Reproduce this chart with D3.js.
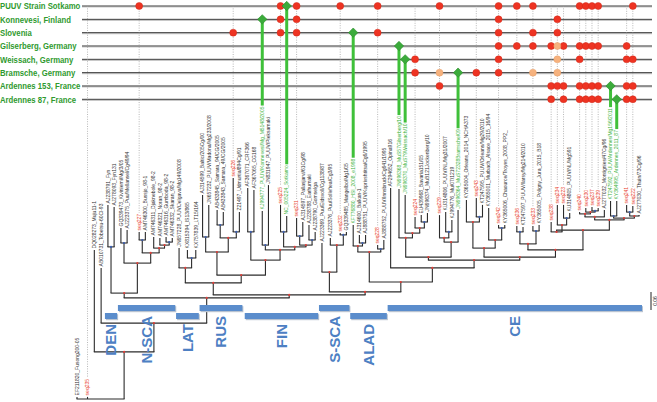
<!DOCTYPE html>
<html><head><meta charset="utf-8">
<script src="https://cdn.jsdelivr.net/npm/d3@7"></script>
<style>body{margin:0;background:#fff}svg{display:block}</style>
</head><body><svg id="c" width="657" height="402"></svg>
<script>
// ---------- DATA ----------
const rowLabels = ["PUUV Strain Sotkamo","Konnevesi, Finland","Slovenia","Gilserberg, Germany","Weissach, Germany","Bramsche, Germany","Ardennes 153, France","Ardennes 87, France"];
const rowRefs = ["NC_005224","KJ994777","KF776880","JN696368","JN696370","JN696364","KT247592","KY364995"];
const rowRed = [
 ["seq227","seq225","seq231","seq232","seq228","seq229","seq242","seq236","seq233","seq240","seq230","seq237","seq239","seq222"],
 ["seq225","seq231","seq242","seq234"],
 ["seq226","seq225","seq231","seq228","seq242","seq233","seq234"],
 ["seq242","seq236","seq233","seq238","seq223","seq240","seq230","seq237","seq239","seq241"],
 ["seq224","seq242","seq240","seq241","seq222"],
 ["seq224","seq243","seq242"],
 ["seq229","seq238","seq234","seq223","seq240","seq230","seq237","seq239","seq241","seq222"],
 ["seq238","seq223","seq240","seq230","seq237","seq239","seq241","seq222"]
];
const rowOrange = [[],[],[],["seq234"],["seq234"],["seq229","seq233","seq234"],[],[]];

const cladeNames = ["DEN","N-SCA","LAT","RUS","FIN","S-SCA","ALAD","CE"];
const cladeFirst = ["AJ238791","GQ339473","JN657228","AJ314599","AF367071","AJ223369","KF776880","AF294652"];
const cladeLast  = ["AJ278093","AM746332","KX757839","Z21497","AJ238790","GQ339485","AJ888752","AJ277030"];
const scaleBarValue = 0.06;

// subtrees (Newick-like; number after ':' = distance from root)
const treeDEN = "(AJ238791_Fyn:0.647,AJ278093_Fyn131:0.64):0.507";
const treeNSCA = "((GQ339473_Kiviniemi/Mg/3/05:0.57,AJ223375_Puu/Mellansel/Cg49/94:0.563):0.52,((seq227:0.557,AM746300_Bussjo_98-1:0.557):0.53,(AM746311_Djaknebole_98-2:0.54,(AM746321_Noran_98-2:0.537,(AM746316_Gumboda_98-2:0.54,AM746332_Skaran_98-2:0.537):0.523):0.513):0.503):0.487):0.453";
const treeLAT = "(JN657228_PUUV/Jelgava/Mg149/2008:0.503,(KX815394_IS13/865:0.497,KX757839_LT15/164:0.497):0.47):0.437";
const treeRUS = "((AJ314599_Baltic/205Cg/00:0.68,JN657232_PUUV/Madona/Mg233/2008:0.647):0.54,((AB433845_Samara_94/CG/2005:0.63,AB433843_Samara_49/CG/2005:0.623):0.58,(seq226:0.737,Z21497_Udmurtia/894Cg/91:0.623):0.557):0.537):0.49";
const treeFIN = "((AF367071_CRF366:0.703,AF367065_CG168:0.697):0.557,((KJ994777_PUUV/Konnevesi/Mg_M5148/2005:0.627,JN831947_PUUV/Pieksamaki:0.713):0.513,((seq225:0.647,NC_005224_Sotkamo:0.61):0.557,((seq231:0.603,AJ314597_Pallasjarvi/61Cg/98:0.59):0.543,(AJ238788_Earhumaki:0.58,AJ238790_Gomselga:0.557):0.53):0.513):0.507):0.497):0.463";
const treeSSCA = "(AJ223369_Puu/Eidsvoll/Cg1138/87:0.52,(AJ223376_Puu/Solleftea/Cg3/95:0.537,(seq232:0.553,GQ339485_Mangelbo/Mg1/05:0.557):0.547):0.513):0.423";
const treeALAD = "((KF776880_HSI_2008_e1998:0.58,(AJ314600_Balkan-1:0.547,AJ888751_PUUV/Koprivshtitsa/Cg6/1995:0.547):0.52):0.51,(seq228:0.513,AJ888752_PUUV/Innsbruck/Cg641/1995:0.53):0.5):0.49";
const treeCE = "(AF294652_Opina916:0.703,(((JN696368_MuS57Gilserberg/10:0.70,(JN696370_MuS79Weissach/10:0.68,(seq224:0.607,(EU439968_Bavaria151/05:0.613,JN696374_MuB121Jockenberg/10:0.62):0.59):0.57):0.553):0.537,((seq229:0.613,(KU314806_PUUV/NL/Mg31/2007:0.623,KJ994776_Mu/07/1219:0.597):0.557):0.537,JN696364_MuS72328Bramsche/09:0.63):0.523):0.473,(((KY365004_Orleans_2014_NCHA373:0.663,(seq243:0.67,KT247595_PUUV/Orleans/Mg29/2010:0.647):0.607):0.59,(KY365001_Murbach_Alsace_2015_16/94:0.637,(seq242:0.58,KY365006_Chaource/Troyes_2008_PP2_:0.58):0.57):0.53):0.503,(((seq236:0.577,KT247597_PUUV/Ilarsy/Mg214/2010:0.573):0.557,(seq233:0.577,KY365005_Poligny_Jura_2015_B18:0.58):0.56):0.517,((seq238:0.59,(seq234:0.647,(seq223:0.647,KU314805_PUUV/NL/Mg591:0.62):0.603):0.58):0.557,(((seq240:0.623,(seq230:0.637,(seq237:0.64,seq239:0.637):0.627):0.623):0.617,AJ277032_Montignies/47Cg/96:0.63):0.607,((KT247592_PUUV/Ardennes/Mg156/2011:0.66,KY364995_Ardennes_2011_87:0.66):0.61,((seq241:0.647,seq222:0.643):0.623,AJ277030_Thuin/73Cg/96:0.613):0.61):0.603):0.597):0.563):0.497):0.473):0.463):0.437";
const treeFull = `(EF211820_Fusong200-05:0.007,seq235:0.007,(DQ028273_Muju11-1:0.497,(AB010731_Tobetsu-60Cl-93:0.437,((${treeDEN},${treeNSCA}):0.353,((${treeLAT},(${treeRUS},${treeFIN}):0.413):0.387,(${treeSSCA},(${treeALAD},${treeCE}):0.39):0.357):0.347):0.337):0.253):0.157):0`;

// ---------- PARSE ----------
function parseNewick(s){
  let i=0;
  function node(){
    const n={};
    if(s[i]==='('){ i++; n.children=[];
      while(true){ n.children.push(node()); if(s[i]===','){i++;continue;} if(s[i]===')'){i++;break;} }
    }
    let name=''; while(i<s.length && !':,()'.includes(s[i])) name+=s[i++];
    n.name=name;
    if(s[i]===':'){ i++; let num=''; while(i<s.length && !',()'.includes(s[i])) num+=s[i++]; n.d=+num; }
    return n;
  }
  return node();
}

const svg = d3.select("#c");
const root = d3.hierarchy(parseNewick(treeFull));
const leaves = root.leaves();
const isSeq = l => l.data.name.startsWith("seq");
function lca(a,b){ const A=new Set(a.ancestors()); return b.ancestors().find(n=>A.has(n)); }
let u=0;
leaves.forEach((l,i)=>{
  if(i>0){
    const prev=leaves[i-1];
    u+=1;
    if(isSeq(l) && !isSeq(prev)) u+=0.6;
    const d=lca(prev,l).data.d;
    if(d<0.5) u+= d>=0.4 ? 0.35 : 0.1;
  }
  l.u=u;
});
const x = d3.scaleLinear().domain([0,u]).range([77,639]);
root.eachAfter(n=>{ n.x = n.children ? (n.children[0].x+n.children[n.children.length-1].x)/2 : x(n.u); });
const y = d3.scaleLinear().domain([0,1]).range([399,99]);
const rowY = d3.scalePoint().domain(rowLabels).range([6,99.3]);
const leafBy = p => leaves.find(l=>l.data.name.startsWith(p));
const isRef = l => rowRefs.some(r=>l.data.name.startsWith(r));

// ---------- ROW LINES ----------
const gRows = svg.append("g");
rowLabels.forEach(r=>{
  gRows.append("line").attr("x1",82).attr("x2",652).attr("y1",rowY(r)+1).attr("y2",rowY(r)+1).attr("stroke","#c8c8c8").attr("stroke-width",1.2);
  gRows.append("line").attr("x1",82).attr("x2",652).attr("y1",rowY(r)).attr("y2",rowY(r)).attr("stroke","#3a3a3a").attr("stroke-width",1);
});

// ---------- TREE ----------
const gTree = svg.append("g").attr("stroke","#2b2b2b").attr("stroke-width",1.1).attr("fill","none");
root.descendants().forEach(n=>{
  if(n.parent) gTree.append("line").attr("x1",n.x).attr("x2",n.x).attr("y1",y(n.parent.data.d)).attr("y2",y(n.data.d));
  if(n.children) gTree.append("line").attr("x1",n.children[0].x-0.5).attr("x2",n.children[n.children.length-1].x+0.5).attr("y1",y(n.data.d)).attr("y2",y(n.data.d));
});
root.descendants().filter(n=>n.children && n.parent).forEach(n=>{
  const cherry = n.children.every(c=>!c.children);
  svg.append("circle").attr("cx",n.x).attr("cy",y(n.data.d)).attr("r",1.1).attr("fill",cherry?"#3d5fb0":"#e0403a");
});

// ---------- LEAF LABELS ----------
const gLab = svg.append("g");
leaves.forEach(l=>{
  const ty = y(l.data.d)-1.5;
  const t = gLab.append("text").attr("transform",`translate(${l.x},${ty}) rotate(-90)`)
    .attr("dy","0.35em").attr("font-family","Liberation Sans, Arial, sans-serif").attr("font-size",5)
    .attr("fill", isSeq(l)?"#e8412c":(isRef(l)?"#3db33d":"#333")).text(l.data.name);
  l.top = ty - t.node().getComputedTextLength();
});

// ---------- DOTTED COLUMN LINES ----------
leaves.filter(isSeq).forEach(l=>{
  svg.append("line").attr("x1",l.x).attr("x2",l.x).attr("y1",rowY(rowLabels[0])).attr("y2",l.top-1)
    .attr("stroke","#9a9a9a").attr("stroke-width",0.7).attr("stroke-dasharray","1,1.4");
});

// ---------- GREEN STEMS ----------
rowLabels.forEach((r,i)=>{
  const l = leafBy(rowRefs[i]);
  svg.append("line").attr("x1",l.x).attr("x2",l.x).attr("y1",rowY(r)).attr("y2",l.top-1)
    .attr("stroke","#3fc03a").attr("stroke-width",3);
});

// ---------- DOTS ----------
rowLabels.forEach((r,i)=>{
  rowRed[i].forEach(s=>{ const l=leafBy(s);
    svg.append("circle").attr("cx",l.x).attr("cy",rowY(r)).attr("r",3.5).attr("fill","#ee3322").attr("stroke","#d02a1a").attr("stroke-width",0.5); });
  rowOrange[i].forEach(s=>{ const l=leafBy(s);
    svg.append("circle").attr("cx",l.x).attr("cy",rowY(r)).attr("r",3.5).attr("fill","#f6b27e").attr("stroke","#e8a06a").attr("stroke-width",0.5); });
  const g = leafBy(rowRefs[i]);
  svg.append("rect").attr("x",-3.3).attr("y",-3.3).attr("width",6.6).attr("height",6.6)
    .attr("transform",`translate(${g.x},${rowY(r)}) rotate(45)`).attr("fill","#3bab3b").attr("stroke","#2a8f2a").attr("stroke-width",0.6);
});

// ---------- ROW LABELS ----------
rowLabels.forEach(r=>{
  svg.append("text").attr("transform",`translate(0,${rowY(r)+3.2}) scale(0.9,1)`)
    .attr("font-family","Liberation Sans, Arial, sans-serif")
    .attr("font-weight","bold").attr("font-size",8.6).attr("fill","#2f9a2f").text(r);
});

// ---------- CLADE BARS ----------
cladeNames.forEach((c,i)=>{
  const a=leafBy(cladeFirst[i]), b=leafBy(cladeLast[i]);
  const x1=a.x-3, x2=b.x+3, by = i%2===0 ? 313 : 305;
  svg.append("rect").attr("x",x1+1).attr("y",by+1.2).attr("width",x2-x1).attr("height",6).attr("fill","#b9c3d0");
  svg.append("rect").attr("x",x1).attr("y",by).attr("width",x2-x1).attr("height",6).attr("fill","#5b8dcc");
  svg.append("text").attr("transform",`translate(${(x1+x2)/2},${by+11}) rotate(-90)`).attr("text-anchor","end")
    .attr("dy","0.36em").attr("font-family","Liberation Sans, Arial, sans-serif").attr("font-weight","bold")
    .attr("font-size",15).attr("fill","#4d80c3").text(c);
});

// ---------- SCALE BAR ----------
const sb0 = 292;
svg.append("line").attr("x1",651).attr("x2",651).attr("y1",sb0).attr("y2",sb0+(y(0)-y(scaleBarValue)))
  .attr("stroke","#222").attr("stroke-width",1);
svg.append("text").attr("transform",`translate(655,${sb0+(y(0)-y(scaleBarValue))/2}) rotate(-90)`).attr("text-anchor","middle")
  .attr("dy","0.35em").attr("font-family","Liberation Sans, Arial, sans-serif").attr("font-size",5).attr("fill","#222").text(String(scaleBarValue));
</script></body></html>
